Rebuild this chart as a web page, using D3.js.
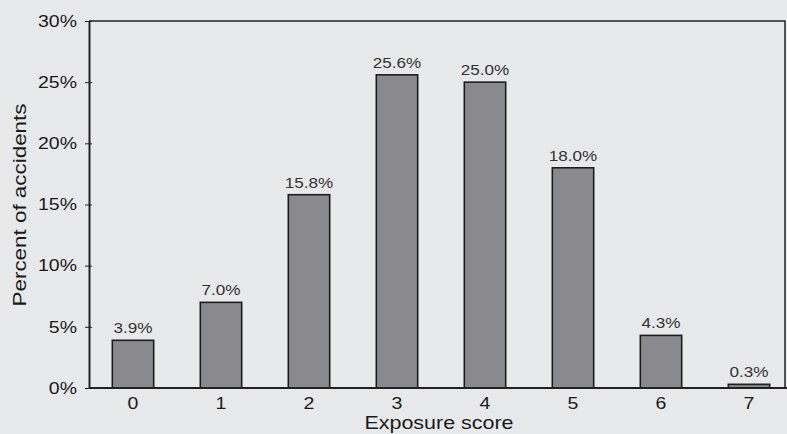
<!DOCTYPE html>
<html>
<head>
<meta charset="utf-8">
<script src="https://cdn.jsdelivr.net/npm/d3@7"></script>
<style>
  body { margin: 0; background: #e8e9eb; }
  svg { display: block; }
  text { font-family: "Liberation Sans", Arial, sans-serif; fill: #1a1a1a; }
</style>
</head>
<body>
<svg id="chart"></svg>
<script>
// exposure score categories and share of accidents
var scores = ["0", "1", "2", "3", "4", "5", "6", "7"];
var percents = [3.9, 7.0, 15.8, 25.6, 25.0, 18.0, 4.3, 0.3];
var yTicks = [0, 5, 10, 15, 20, 25, 30];

var width = 787, height = 434;
var plotLeft = 89, plotRight = 785, plotTop = 21, plotBottom = 388;

var svg = d3.select("#chart")
  .attr("width", width)
  .attr("height", height);

svg.append("rect")
  .attr("width", width).attr("height", height)
  .attr("fill", "#e8e9eb");

// the scanned lettering is wider than Liberation Sans, so stretch it a bit
function stretch(selection, k) {
  selection.each(function() {
    var len = this.getComputedTextLength();
    d3.select(this)
      .attr("textLength", len * k)
      .attr("lengthAdjust", "spacingAndGlyphs");
  });
}

var x = d3.scaleBand()
  .domain(scores)
  .range([plotLeft, 793])
  .paddingInner(0.53)
  .paddingOuter(0.265);

var y = d3.scaleLinear()
  .domain([0, 30])
  .range([plotBottom, plotTop]);

// frame (top + right)
svg.append("path")
  .attr("d", "M" + plotLeft + "," + plotTop + "H" + plotRight + "V" + plotBottom)
  .attr("fill", "none")
  .attr("stroke", "#222")
  .attr("stroke-width", 1.5);

// bars
svg.selectAll(".bar")
  .data(percents)
  .enter().append("rect")
  .attr("class", "bar")
  .attr("x", function(d, i) { return x(scores[i]); })
  .attr("width", x.bandwidth())
  .attr("y", function(d) { return y(d); })
  .attr("height", function(d) { return plotBottom - y(d); })
  .attr("fill", "#8a8a8e")
  .attr("stroke", "#1e1e1e")
  .attr("stroke-width", 1.6);

// value labels
svg.selectAll(".lbl")
  .data(percents)
  .enter().append("text")
  .attr("class", "lbl")
  .attr("x", function(d, i) { return x(scores[i]) + x.bandwidth() / 2; })
  .attr("y", function(d) { return y(d) - 7; })
  .attr("text-anchor", "middle")
  .style("font-size", "14.5px")
  .style("fill", "#333")
  .text(function(d) { return d.toFixed(1) + "%"; })
  .call(stretch, 1.18);

// y axis
var yAxis = svg.append("g")
  .attr("transform", "translate(" + plotLeft + ",0)")
  .call(d3.axisLeft(y).tickValues(yTicks)
    .tickFormat(function(d) { return d + "%"; })
    .tickSizeInner(4).tickSizeOuter(0).tickPadding(8));
yAxis.select(".domain").attr("stroke", "#222").attr("stroke-width", 2);
yAxis.selectAll(".tick line").attr("stroke", "#222").attr("x2", 3).attr("x1", -4);
yAxis.selectAll("text")
  .style("font-size", "16.5px")
  .style("font-family", "Liberation Sans, Arial, sans-serif")
  .attr("fill", "#1a1a1a")
  .call(stretch, 1.18);

// x axis
var xAxis = svg.append("g")
  .attr("transform", "translate(0," + plotBottom + ")")
  .call(d3.axisBottom(x).tickSize(0).tickPadding(9));
xAxis.select(".domain").attr("d", "M" + plotLeft + ",0H" + width)
  .attr("stroke", "#222").attr("stroke-width", 2);
xAxis.selectAll("text")
  .style("font-size", "16.5px")
  .style("font-family", "Liberation Sans, Arial, sans-serif")
  .attr("fill", "#1a1a1a")
  .call(stretch, 1.18);

// axis titles
svg.append("text")
  .attr("x", 439).attr("y", 429)
  .attr("text-anchor", "middle")
  .style("font-size", "18.5px")
  .text("Exposure score")
  .call(stretch, 1.16);

svg.append("text")
  .attr("transform", "translate(26,205) rotate(-90)")
  .attr("text-anchor", "middle")
  .style("font-size", "17.5px")
  .text("Percent of accidents")
  .call(stretch, 1.28);
</script>
</body>
</html>
